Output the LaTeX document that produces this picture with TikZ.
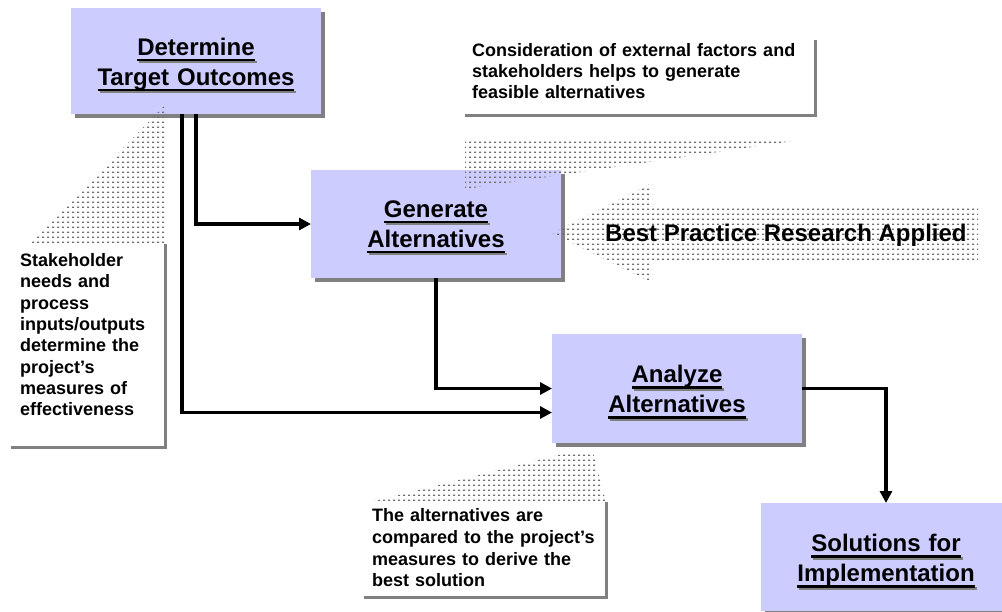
\documentclass[tikz,border=0pt]{standalone}
\usepackage{fontspec}
\setmainfont{Liberation Sans}
\usetikzlibrary{arrows.meta,shadows,patterns.meta}
\definecolor{boxfill}{HTML}{CCCCFF}
\definecolor{shgray}{HTML}{808080}
\definecolor{dotgray}{HTML}{6E6E6E}
\tikzdeclarepattern{name=mydots, type=uncolored,
  bounding box={(0pt,0pt) and (4.6pt,4.6pt)},
  tile size={(4.6pt,4.6pt)},
  code={\pgfpathrectangle{\pgfpoint{0pt}{0pt}}{\pgfpoint{2.2pt}{1.4pt}}\pgfusepath{fill}}}
\newcommand\titleline[1]{\setbox0\hbox{#1}%
  \makebox[0pt][l]{\hspace*{2pt}\raisebox{-2pt}{\color{shgray}\rule[-6pt]{\wd0}{2.4pt}}}%
  \rlap{\rule[-6pt]{\wd0}{2.4pt}}\box0}
\tikzset{
  stepbox/.style={rectangle, fill=boxfill, minimum width=250pt, inner sep=0pt, outer sep=0pt,
    drop shadow={shadow xshift=4pt, shadow yshift=-4pt, fill=shgray, opacity=1}},
  callout/.style={rectangle, fill=white, inner sep=0pt, outer sep=0pt,
    drop shadow={shadow xshift=3pt, shadow yshift=-3pt, fill=shgray, opacity=1}},
  titletext/.style={text width=250pt, align=center, font=\bfseries\fontsize{24}{30}\selectfont, inner sep=0pt, anchor=base},
  notetext/.style={align=left, font=\bfseries\fontsize{18}{21.3}\selectfont, inner sep=0pt, anchor=base west},
  conn/.style={line width=3.6pt, -{Triangle[length=12pt,width=12pt]}},
  dotarea/.style={pattern=mydots, pattern color=dotgray},
}
\begin{document}
\begin{tikzpicture}[x=1pt,y=-1pt]
\useasboundingbox (0,0) rectangle (1002,611);
% callout boxes
\node[callout, minimum width=352pt, minimum height=77pt] (cons) at (638,75.5) {};
\node[callout, minimum width=156pt, minimum height=205pt] (stake) at (86,343.5) {};
\node[callout, minimum width=244pt, minimum height=97pt] (comp) at (483,547.5) {};
% process boxes
\node[stepbox, minimum height=106pt] (det) at (196,61) {};
\node[stepbox, minimum height=108pt] (gen) at (436,224) {};
\node[stepbox, minimum height=109pt] (ana) at (677,388.5) {};
\node[stepbox, minimum height=108pt] (sol) at (886,557) {};
% dotted wedges and arrow
\fill[dotarea] (30,244) -- (166,244) -- (166,104) -- cycle;
\fill[dotarea] (465,141) -- (793,141) -- (465,189) -- cycle;
\fill[dotarea] (370,502) -- (606,502) -- (593,452) -- (570,452) -- cycle;
\fill[dotarea] (552,233) -- (652,183) -- (652,205) -- (978,205) -- (978,262) -- (652,262) -- (652,283) -- cycle;
% connectors
\draw[conn] ([xshift=-14pt]det.south) |- ([yshift=-24pt]ana.west);
\draw[conn] (det.south) |- (gen.west);
\draw[conn] (gen.south) |- (ana.west);
\draw[conn] (ana.east) -| (sol.north);
% titles
\node[titletext] (detT) at (196,55) {\titleline{Determine}\\\titleline{Target Outcomes}};
\node[titletext] (genT) at (436,217) {\titleline{Generate}\\\titleline{Alternatives}};
\node[titletext] (anaT) at (677,382.5) {\titleline{Analyze}\\\titleline{Alternatives}};
\node[titletext] (solT) at (886,551.7) {\titleline{Solutions for}\\\titleline{Implementation}};
% notes
\node[notetext, text width=345pt] (consT) at (472,56) {Consideration of external factors and\\stakeholders helps to generate\\feasible alternatives};
\node[notetext, text width=150pt] (stakeT) at (20,266.5) {Stakeholder\\needs and\\process\\inputs/outputs\\determine the\\project’s\\measures of\\effectiveness};
\node[notetext, text width=240pt, font=\bfseries\fontsize{18}{21.7}\selectfont] (compT) at (372,521.7) {The alternatives are\\compared to the project’s\\measures to derive the\\best solution};
\node[font=\bfseries\fontsize{24}{28}\selectfont, anchor=base west, inner sep=0pt] (bpT) at (605,241.5) {Best Practice Research Applied};
\end{tikzpicture}
\end{document}
